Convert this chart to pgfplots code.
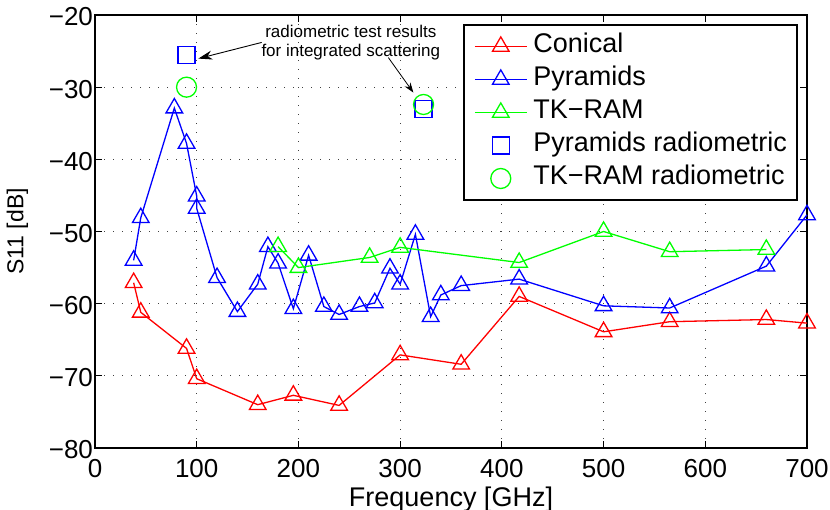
\documentclass[border=0pt]{standalone}
\usepackage{fontspec}
\setmainfont{Liberation Sans}
\usepackage{pgfplots}
\pgfplotsset{compat=1.18}
\usetikzlibrary{arrows.meta}

\begin{document}
\begin{tikzpicture}
\begin{axis}[
  name=ax,
  scale only axis,
  width=356pt, height=216.5pt,
  xmin=0, xmax=700, ymin=-80, ymax=-20,
  clip=false,
  xtick={0,100,...,700},
  xticklabels={0,100,200,300,400,500,600,700},
  ytick={-80,-70,...,-20},
  yticklabels={−80,−70,−60,−50,−40,−30,−20},
  tick align=inside,
  major tick length=3.5pt,
  tick style={black, line width=0.6pt},
  axis line style={line width=1pt},
  grid=major,
  grid style={black!75, line width=0.5pt, dash pattern=on 0.5pt off 4pt},
  ticklabel style={font=\fontsize{13}{15}\selectfont},
  xticklabel style={yshift=-2pt},
  yticklabel style={xshift=2.5pt, yshift=-1pt},
  xlabel={Frequency [GHz]},
  xlabel style={at={(axis description cs:0.5,-0.1353)}, anchor=base, font=\fontsize{13.5}{16}\selectfont},
  ylabel={S11 [dB]},
  ylabel style={at={(axis description cs:-0.1006,0.5)}, anchor=base, font=\fontsize{11.5}{14}\selectfont},
  legend cell align=left,
  legend image code/.code={\draw[mark repeat=2,mark phase=2,#1] plot coordinates {(0pt,0pt)(13pt,0pt)(26pt,0pt)};},
  legend style={at={(1,1)}, anchor=north east, xshift=-4.5pt, yshift=-4.5pt,
    draw=black, line width=1pt, inner xsep=5pt, inner ysep=4pt,
    font=\fontsize{13.5}{16}\selectfont, row sep=3pt, column sep=3pt,
    nodes={inner sep=0pt, text height=10pt, text depth=3.5pt}},
  every axis plot/.append style={line width=0.65pt, mark options={solid, line width=0.65pt}},
]
% Conical
\addplot[color=red, mark=triangle, mark size=4.8pt] coordinates {
  (38,-57.1)(45,-61.2)(90,-66.2)(100,-70.4)(160,-74.0)(195,-72.7)(240,-74.1)
  (300,-67.1)(360,-68.4)(417,-59.0)(500,-63.9)(565,-62.5)(660,-62.2)(700,-62.7)
};
\addlegendentry{Conical}
% Pyramids
\addplot[color=blue, mark=triangle, mark size=4.8pt] coordinates {
  (38,-54.0)(45,-48.1)(78,-32.9)(90,-37.8)(100,-45.1)(100,-46.8)(120,-56.4)
  (140,-61.1)(160,-57.3)(170,-52.1)(180,-54.4)(195,-60.7)(210,-53.3)(225,-60.4)
  (240,-61.5)(260,-60.4)(275,-59.9)(290,-55.1)(300,-57.3)(315,-50.4)(330,-61.8)
  (340,-58.8)(360,-57.5)(417,-56.6)(500,-60.3)(565,-60.6)(660,-54.8)(700,-47.7)
};
\addlegendentry{Pyramids}
% TK-RAM
\addplot[color=green, mark=triangle, mark size=4.8pt] coordinates {
  (180,-52.1)(200,-55.0)(270,-53.6)(300,-52.2)(417,-54.3)(500,-50.0)(565,-52.8)(660,-52.5)
};
\addlegendentry{TK−RAM}
% radiometric
\addplot[color=blue, only marks, mark=square, mark size=4.25pt] coordinates {
  (90,-25.5)(323,-33.0)
};
\addlegendentry{Pyramids radiometric}
\addplot[color=green, only marks, mark=o, mark size=5pt] coordinates {
  (90,-30.0)(323,-32.4)
};
\addlegendentry{TK−RAM radiometric}

\node[font=\fontsize{8.5}{9.5}\selectfont, align=center] at (axis cs:251.5,-23.85)
  {radiometric test results\\for integrated scattering};
\draw[-{Stealth[length=7pt,width=4.5pt]}, line width=0.45pt] (axis cs:163.9,-23.8) -- (axis cs:101.6,-26.04);
\draw[-{Stealth[length=5pt,width=3.5pt]}, line width=0.4pt] (axis cs:288.4,-25.9) -- (axis cs:313,-30.75);
\end{axis}
\pgfresetboundingbox
\path[use as bounding box] ([shift={(-47.5pt,-31pt)}]ax.south west) rectangle ([shift={(11.5pt,7.5pt)}]ax.north east);
\end{tikzpicture}
\end{document}
